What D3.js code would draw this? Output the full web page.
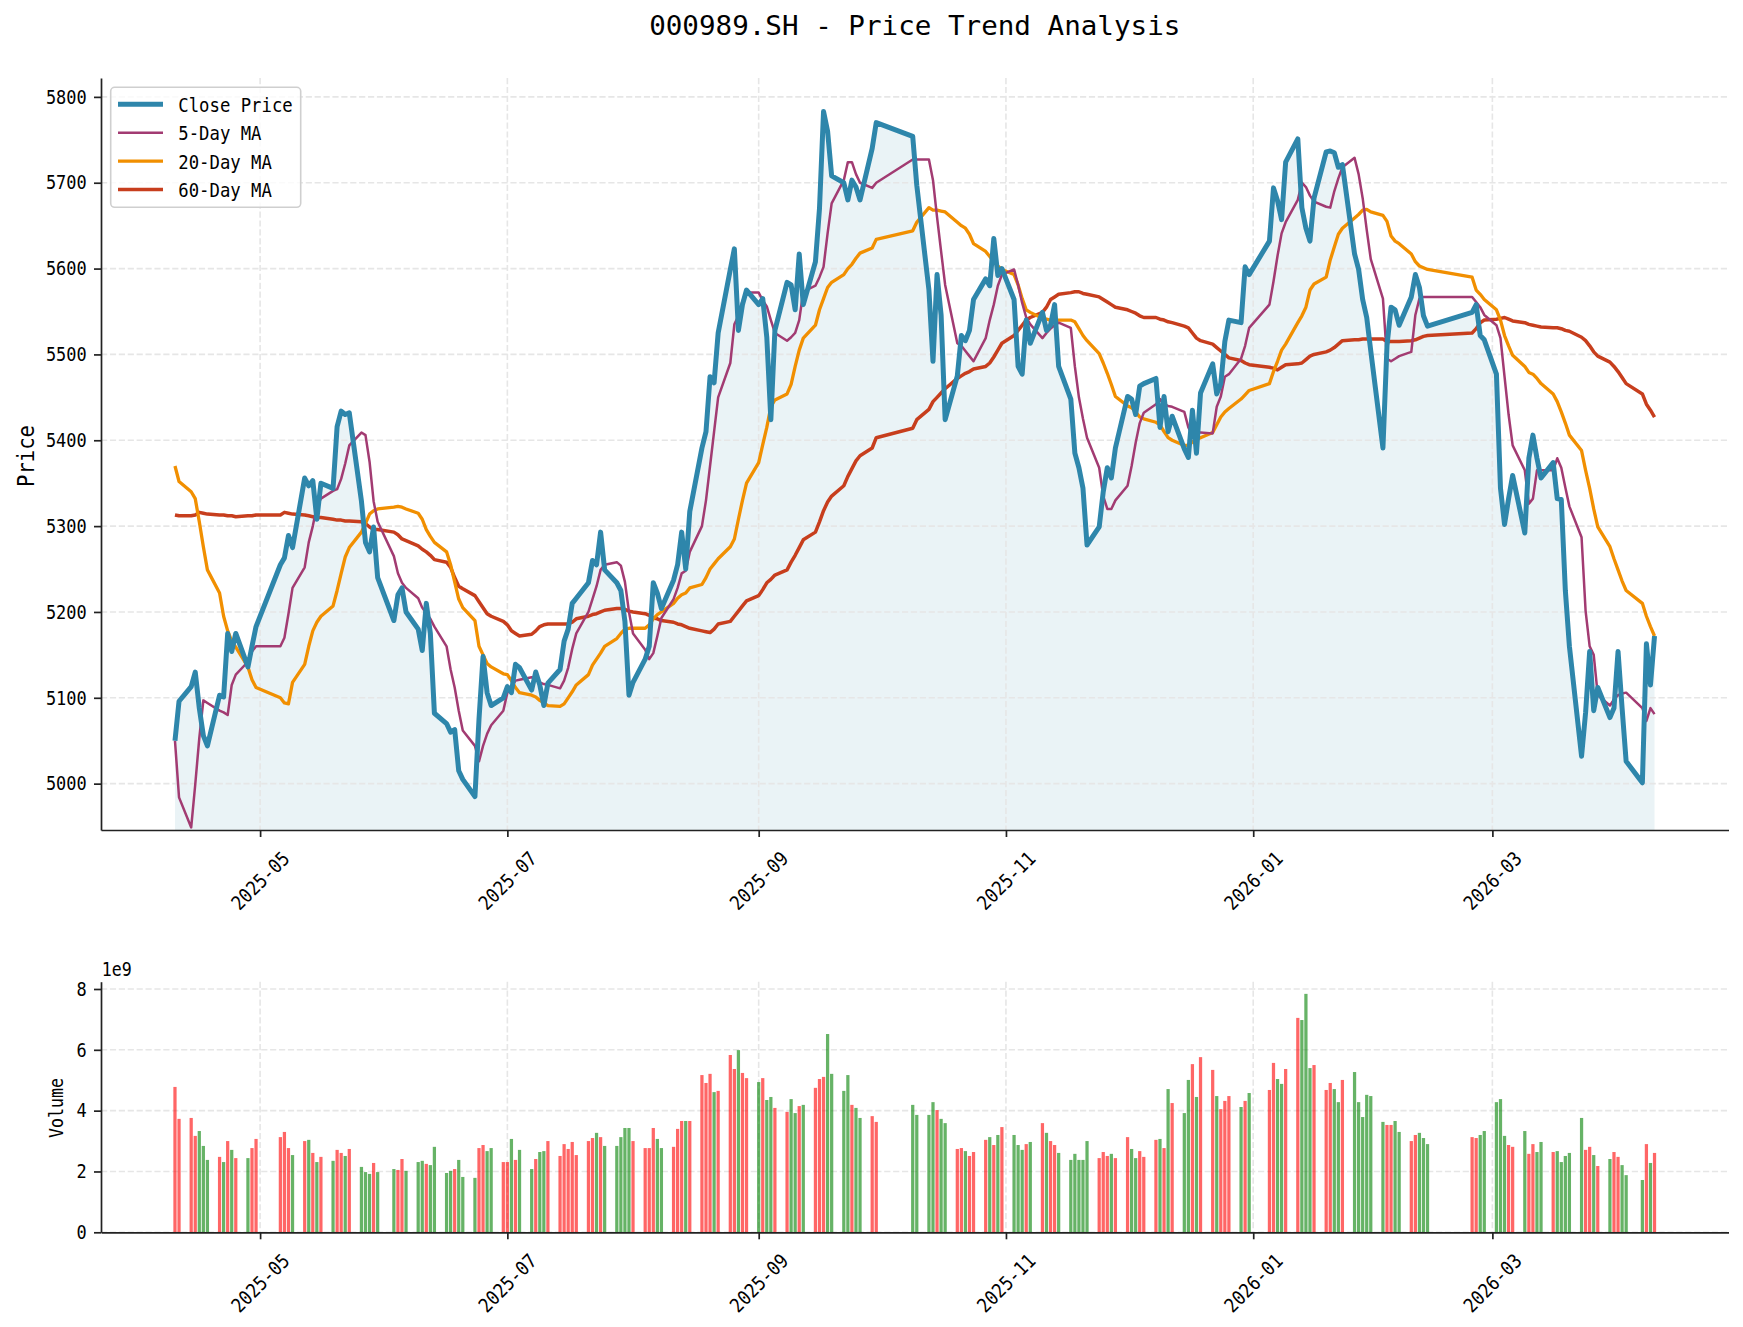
<!DOCTYPE html>
<html>
<head>
<meta charset="utf-8">
<script src="https://cdn.jsdelivr.net/npm/d3@7"></script>
<style>
  body { margin: 0; background: #fff; }
  svg { display: block; }
  text { font-family: "DejaVu Sans Mono", monospace; fill: #000; }
</style>
</head>
<body>
<svg id="chart" width="1743" height="1327"></svg>
<script>
// ---- data ----
var tradeDates = [
  "2025-04-10","2025-04-11","2025-04-14","2025-04-15","2025-04-16","2025-04-17","2025-04-18","2025-04-21","2025-04-22","2025-04-23","2025-04-24","2025-04-25","2025-04-28","2025-04-29","2025-04-30",
  "2025-05-06","2025-05-07","2025-05-08","2025-05-09","2025-05-12","2025-05-13","2025-05-14","2025-05-15","2025-05-16","2025-05-19","2025-05-20","2025-05-21","2025-05-22","2025-05-23","2025-05-26","2025-05-27","2025-05-28","2025-05-29","2025-05-30",
  "2025-06-03","2025-06-04","2025-06-05","2025-06-06","2025-06-09","2025-06-10","2025-06-11","2025-06-12","2025-06-13","2025-06-16","2025-06-17","2025-06-18","2025-06-19","2025-06-20","2025-06-23","2025-06-24","2025-06-25","2025-06-26","2025-06-27","2025-06-30",
  "2025-07-01","2025-07-02","2025-07-03","2025-07-04","2025-07-07","2025-07-08","2025-07-09","2025-07-10","2025-07-11","2025-07-14","2025-07-15","2025-07-16","2025-07-17","2025-07-18","2025-07-21","2025-07-22","2025-07-23","2025-07-24","2025-07-25","2025-07-28","2025-07-29","2025-07-30","2025-07-31",
  "2025-08-01","2025-08-04","2025-08-05","2025-08-06","2025-08-07","2025-08-08","2025-08-11","2025-08-12","2025-08-13","2025-08-14","2025-08-15","2025-08-18","2025-08-19","2025-08-20","2025-08-21","2025-08-22","2025-08-25","2025-08-26","2025-08-27","2025-08-28","2025-08-29",
  "2025-09-01","2025-09-02","2025-09-03","2025-09-04","2025-09-05","2025-09-08","2025-09-09","2025-09-10","2025-09-11","2025-09-12","2025-09-15","2025-09-16","2025-09-17","2025-09-18","2025-09-19","2025-09-22","2025-09-23","2025-09-24","2025-09-25","2025-09-26","2025-09-29","2025-09-30",
  "2025-10-09","2025-10-10","2025-10-13","2025-10-14","2025-10-15","2025-10-16","2025-10-17","2025-10-20","2025-10-21","2025-10-22","2025-10-23","2025-10-24","2025-10-27","2025-10-28","2025-10-29","2025-10-30","2025-10-31",
  "2025-11-03","2025-11-04","2025-11-05","2025-11-06","2025-11-07","2025-11-10","2025-11-11","2025-11-12","2025-11-13","2025-11-14","2025-11-17","2025-11-18","2025-11-19","2025-11-20","2025-11-21","2025-11-24","2025-11-25","2025-11-26","2025-11-27","2025-11-28",
  "2025-12-01","2025-12-02","2025-12-03","2025-12-04","2025-12-05","2025-12-08","2025-12-09","2025-12-10","2025-12-11","2025-12-12","2025-12-15","2025-12-16","2025-12-17","2025-12-18","2025-12-19","2025-12-22","2025-12-23","2025-12-24","2025-12-25","2025-12-26","2025-12-29","2025-12-30","2025-12-31",
  "2026-01-05","2026-01-06","2026-01-07","2026-01-08","2026-01-09","2026-01-12","2026-01-13","2026-01-14","2026-01-15","2026-01-16","2026-01-19","2026-01-20","2026-01-21","2026-01-22","2026-01-23","2026-01-26","2026-01-27","2026-01-28","2026-01-29","2026-01-30",
  "2026-02-02","2026-02-03","2026-02-04","2026-02-05","2026-02-06","2026-02-09","2026-02-10","2026-02-11","2026-02-12","2026-02-13","2026-02-24","2026-02-25","2026-02-26","2026-02-27",
  "2026-03-02","2026-03-03","2026-03-04","2026-03-05","2026-03-06","2026-03-09","2026-03-10","2026-03-11","2026-03-12","2026-03-13","2026-03-16","2026-03-17","2026-03-18","2026-03-19","2026-03-20","2026-03-23","2026-03-24","2026-03-25","2026-03-26","2026-03-27","2026-03-30","2026-03-31",
  "2026-04-01","2026-04-02","2026-04-03","2026-04-07","2026-04-08","2026-04-09","2026-04-10"
];

var closePrice = [
  5050,5096,5113,5130,5088,5056,5044,5103,5101,5175,5154,5175,5136,5160,5183,
  5255,5263,5289,5275,5356,5347,5353,5308,5350,5344,5416,5434,5430,5432,5329,5281,5270,5299,5240,
  5190,5220,5228,5200,5180,5155,5210,5175,5082,5070,5060,5063,5015,5005,4985,5075,5148,5106,5091,5100,
  5113,5106,5139,5135,5109,5130,5115,5091,5117,5133,5166,5180,5210,5216,5234,5260,5255,5293,5249,5234,5225,5189,5103,
  5118,5145,5160,5234,5222,5204,5237,5255,5293,5250,5317,5391,5410,5474,5467,5525,5599,5623,5528,5558,5575,
  5558,5565,5520,5424,5528,5584,5581,5552,5617,5558,5608,5670,5783,5760,5708,5700,5680,5703,5695,5680,5740,5770,
  5754,5697,5575,5492,5593,5546,5424,5475,5522,5516,5528,5564,5588,5580,5635,5592,5600,
  5564,5486,5477,5540,5513,5549,5528,5534,5558,5486,5448,5385,5368,5344,5278,5299,5340,5368,5356,5391,
  5451,5448,5430,5463,5466,5472,5415,5451,5410,5428,5390,5380,5435,5385,5455,5489,5454,5466,5515,5540,5537,5602,5593,
  5632,5694,5679,5657,5724,5751,5671,5647,5632,5682,5736,5737,5735,5718,5721,5617,5599,5564,5543,5504,
  5391,5510,5555,5552,5534,5567,5593,5578,5545,5533,5549,5558,5522,5517,
  5477,5344,5302,5332,5359,5292,5379,5406,5379,5356,5374,5332,5331,5225,5160,5032,5083,5154,5085,5112,5077,5088,
  5154,5088,5026,5001,5163,5115,5172
];

var ma5 = [
  5050,4984,4949,4999,5053,5097,5094,5085,5083,5080,5115,5127,5142,5154,5160,
  5160,5170,5198,5228,5252,5281,5300,5323,5332,5341,5343,5355,5373,5394,5409,5406,5375,5329,5305,
  5265,5245,5234,5228,5216,5205,5198,5192,5183,5160,5133,5112,5085,5062,5044,5026,5044,5058,5068,5085,
  5106,5112,5120,5121,5124,5122,5118,5116,5115,5111,5120,5135,5157,5175,5200,5215,5230,5249,5255,5258,5254,5235,5200,
  5175,5156,5145,5152,5172,5193,5215,5228,5245,5248,5270,5300,5330,5370,5410,5450,5490,5535,5545,5562,5572,
  5572,5563,5556,5540,5525,5516,5520,5525,5540,5573,5580,5590,5602,5641,5676,5703,5724,5724,5710,5700,5694,5700,
  5727,5727,5727,5703,5660,5620,5581,5513,5510,5504,5498,5492,5519,5540,5558,5580,5593,
  5599,5581,5560,5543,5535,5519,5525,5530,5534,5537,5531,5486,5450,5425,5403,5368,5335,5320,5320,5330,
  5347,5370,5397,5420,5432,5442,5448,5442,5440,5439,5433,5415,5406,5409,5409,5408,5439,5451,5474,5477,5495,5510,5531,
  5558,5585,5615,5641,5654,5680,5700,5695,5685,5678,5672,5671,5690,5705,5718,5729,5710,5682,5645,5611,
  5565,5495,5492,5495,5498,5503,5546,5565,5567,5567,5567,5561,5555,5546,
  5534,5519,5474,5430,5394,5365,5326,5332,5365,5365,5365,5379,5368,5345,5323,5287,5201,5160,5150,5103,5091,5098,
  5103,5105,5106,5088,5073,5088,5081
];

var ma20 = [
  5370,5352,5340,5332,5305,5276,5249,5222,5195,5178,5166,5159,5136,5121,5112,
  5100,5094,5093,5118,5139,5160,5178,5188,5195,5207,5225,5245,5264,5275,5293,5303,5314,5318,5320,
  5322,5323,5322,5320,5315,5308,5296,5288,5281,5270,5255,5235,5215,5205,5190,5160,5150,5140,5136,5128,
  5127,5120,5112,5106,5103,5101,5097,5094,5091,5090,5093,5100,5107,5115,5127,5138,5145,5152,5160,5169,5175,5180,5181,
  5181,5181,5185,5192,5197,5200,5210,5216,5220,5222,5228,5232,5240,5250,5256,5262,5276,5285,5308,5330,5350,
  5374,5395,5415,5439,5447,5454,5465,5486,5505,5519,5534,5552,5565,5578,5584,5593,5600,5605,5612,5618,5624,5634,
  5644,5654,5671,5668,5668,5667,5666,5654,5650,5647,5640,5629,5620,5614,5608,5603,5599,
  5593,5581,5565,5552,5549,5542,5541,5540,5540,5540,5540,5538,5530,5522,5516,5501,5490,5478,5465,5451,
  5440,5438,5433,5427,5425,5421,5418,5410,5403,5400,5394,5394,5398,5401,5403,5409,5418,5427,5433,5437,5448,5453,5458,
  5466,5480,5492,5505,5512,5537,5545,5555,5575,5582,5590,5610,5625,5640,5647,5659,5663,5668,5669,5666,
  5662,5655,5638,5632,5629,5617,5608,5603,5601,5599,5590,5575,5570,5564,
  5552,5540,5522,5510,5499,5486,5479,5477,5472,5466,5454,5445,5433,5420,5406,5388,5365,5344,5320,5299,5276,5262,
  5249,5236,5225,5210,5195,5183,5172
];

var ma60 = [
  5313,5312,5312,5313,5316,5315,5314,5313,5313,5312,5312,5311,5312,5312,5313,
  5313,5316,5315,5314,5313,5312,5311,5310,5310,5308,5307,5307,5306,5306,5305,5303,5299,5296,5296,
  5293,5290,5285,5283,5277,5273,5270,5266,5261,5258,5252,5240,5230,5227,5219,5212,5205,5198,5195,5189,
  5185,5178,5175,5172,5174,5178,5183,5185,5186,5186,5186,5186,5188,5192,5195,5197,5198,5200,5202,5204,5204,5203,5201,
  5200,5198,5196,5193,5192,5190,5188,5186,5185,5183,5181,5178,5177,5176,5180,5186,5189,5195,5201,5207,5213,
  5219,5226,5234,5238,5243,5249,5258,5266,5275,5284,5293,5305,5318,5328,5335,5347,5358,5367,5376,5382,5391,5403,
  5414,5424,5436,5445,5450,5455,5460,5472,5475,5478,5480,5483,5486,5490,5497,5505,5513,
  5522,5528,5534,5540,5543,5549,5555,5564,5567,5570,5572,5573,5573,5571,5570,5567,5564,5561,5558,5555,
  5552,5550,5548,5545,5543,5543,5541,5540,5538,5537,5533,5531,5525,5519,5516,5512,5508,5504,5500,5496,5493,5490,5488,
  5485,5484,5482,5485,5488,5489,5490,5494,5498,5500,5503,5505,5508,5512,5516,5517,5517,5518,5518,5518,
  5518,5515,5515,5515,5515,5516,5517,5519,5521,5522,5525,5530,5537,5540,
  5541,5542,5543,5541,5539,5537,5535,5534,5533,5532,5531,5531,5530,5528,5527,5520,5516,5510,5503,5498,5491,5486,
  5480,5473,5466,5454,5442,5435,5427
];

// volume in units of 1e9
var volumeE9 = [
  4.78,3.73,3.76,3.17,3.33,2.84,2.38,2.48,2.31,3.00,2.71,2.44,2.44,2.77,3.07,
  3.13,3.30,2.77,2.54,3.00,3.04,2.61,2.31,2.48,2.35,2.71,2.61,2.51,2.74,2.15,1.98,1.92,2.28,1.98,
  2.08,2.05,2.41,2.02,2.31,2.35,2.25,2.21,2.81,1.95,2.02,2.08,2.38,1.82,1.79,2.77,2.87,2.67,2.77,2.31,
  2.31,3.07,2.38,2.71,2.08,2.41,2.64,2.67,3.00,2.51,2.90,2.74,2.97,2.54,3.00,3.10,3.27,3.13,2.84,2.84,3.13,3.43,3.43,
  3.00,2.77,2.77,3.43,3.07,2.77,2.81,3.40,3.66,3.66,3.66,5.17,4.91,5.21,4.61,4.65,5.83,5.37,5.99,5.24,5.07,
  4.94,5.07,4.35,4.45,4.09,3.96,4.38,3.92,4.15,4.19,4.75,5.04,5.11,6.52,5.21,4.65,5.17,4.19,4.09,3.76,3.82,3.63,
  4.19,3.86,3.86,4.28,4.02,3.73,3.59,2.74,2.77,2.67,2.51,2.64,3.04,3.13,2.87,3.20,3.46,
  3.20,2.87,2.71,2.90,2.97,3.59,3.27,3.00,2.87,2.61,2.38,2.58,2.38,2.38,3.00,2.44,2.64,2.51,2.58,2.44,
  3.13,2.74,2.44,2.67,2.48,3.04,3.07,2.77,4.71,4.25,3.92,5.01,5.53,4.45,5.76,5.34,4.48,4.05,4.32,4.48,4.12,4.32,4.58,
  4.68,5.57,5.04,4.88,5.37,7.05,6.98,7.84,5.40,5.50,4.68,4.91,4.71,4.28,5.01,5.27,4.28,3.79,4.52,4.48,
  3.63,3.53,3.53,3.66,3.30,3.00,3.20,3.27,3.10,2.90,3.13,3.10,3.20,3.33,
  4.28,4.38,3.17,2.87,2.81,3.33,2.58,2.90,2.64,2.97,2.64,2.67,2.31,2.51,2.61,3.76,2.71,2.81,2.54,2.18,2.41,2.64,
  2.48,2.21,1.88,1.72,2.90,2.28,2.61
];

// 1 = up day (red bar), 0 = down day (green bar)
var volumeUp = [
  1,1,1,1,0,0,0,1,0,1,0,1,0,1,1,
  1,1,1,0,1,0,1,0,1,0,1,1,0,1,0,0,0,1,0,
  0,1,1,0,0,0,1,0,0,0,0,1,0,0,0,1,1,0,0,1,
  1,0,1,0,0,1,0,0,1,1,1,1,1,1,1,1,0,1,0,0,0,0,0,
  1,1,1,1,0,0,1,1,1,0,1,1,1,1,0,1,1,1,0,1,1,
  0,1,0,0,1,1,0,0,1,0,1,1,1,0,0,0,0,1,0,0,1,1,
  0,0,0,0,1,0,0,1,1,0,1,1,1,0,1,0,1,
  0,0,0,1,0,1,0,1,1,0,0,0,0,0,0,1,1,1,0,1,
  1,0,0,1,1,1,0,1,0,1,0,0,1,0,1,1,0,1,1,1,0,1,0,
  1,1,0,0,1,1,0,0,0,1,1,1,0,0,1,0,0,0,0,0,
  0,1,1,0,0,1,1,0,0,0,1,1,0,0,
  0,0,0,1,1,0,1,1,0,0,1,0,0,0,0,0,1,1,0,1,0,1,
  1,0,0,0,1,0,1
];

var priceTicks = [5000, 5100, 5200, 5300, 5400, 5500, 5600, 5700, 5800];
var volumeTicks = [0, 2, 4, 6, 8];
var dateTicks = ["2025-05-01", "2025-07-01", "2025-09-01", "2025-11-01", "2026-01-01", "2026-03-01"];

// ---- layout ----
var svg = d3.select("#chart");
var main = {left: 101, right: 1728.5, top: 78, bottom: 830};
var vol = {top: 981.7, bottom: 1232.3};

var parseDate = d3.utcParse("%Y-%m-%d");
var days = tradeDates.map(parseDate);
var rows = days.map(function (d, i) {
    return {date: d, close: closePrice[i], ma5: ma5[i], ma20: ma20[i], ma60: ma60[i], vol: volumeE9[i], up: volumeUp[i]};
});

var t0 = days[0], t1 = days[days.length - 1];
var pad = (t1 - t0) * 0.05;
var x = d3.scaleUtc()
    .domain([new Date(+t0 - pad), new Date(+t1 + pad)])
    .range([main.left, main.right]);
var y = d3.scaleLinear().domain([4946, 5822]).range([main.bottom, main.top]);
var yv = d3.scaleLinear().domain([0, 8.24]).range([vol.bottom, vol.top]);
var tickDates = dateTicks.map(parseDate);

var GRID = "#e6e6e6", SPINE = "#222";

// squeeze monospace text to half-width glyphs (SimHei-like)
function squeeze(sel, size, adv) {
    sel.attr("font-size", size)
        .attr("lengthAdjust", "spacingAndGlyphs")
        .attr("textLength", function () { return this.textContent.length * adv; });
}

function grid(g, yScale, yTicks, top, bottom) {
    g.selectAll("line.gx").data(tickDates).enter().append("line")
        .attr("x1", function (d) { return x(d); }).attr("x2", function (d) { return x(d); })
        .attr("y1", top).attr("y2", bottom);
    g.selectAll("line.gy").data(yTicks).enter().append("line")
        .attr("x1", main.left).attr("x2", main.right)
        .attr("y1", function (d) { return yScale(d); }).attr("y2", function (d) { return yScale(d); });
    g.selectAll("line")
        .attr("stroke", GRID).attr("stroke-width", 1.6).attr("stroke-dasharray", "6.2,2.7");
}

function styleAxis(g) {
    g.selectAll("path.domain").attr("stroke", SPINE).attr("stroke-width", 1.7);
    g.selectAll(".tick line").attr("stroke", SPINE).attr("stroke-width", 1.7);
    g.selectAll("text").attr("fill", "#000").attr("font-family", "DejaVu Sans Mono");
}

function dateAxis(yPos) {
    var g = svg.append("g").attr("transform", "translate(0," + yPos + ")")
        .call(d3.axisBottom(x).tickValues(tickDates).tickFormat(d3.utcFormat("%Y-%m"))
            .tickSize(7).tickSizeOuter(0));
    styleAxis(g);
    g.selectAll(".tick text")
        .attr("x", 0).attr("y", 0).attr("dy", null)
        .attr("text-anchor", "middle").attr("dominant-baseline", "central")
        .attr("transform", "translate(0,51) rotate(-45)")
        .call(squeeze, 19.5, 10.4);
}

// ---- price panel ----
svg.append("clipPath").attr("id", "clipMain").append("rect")
    .attr("x", main.left).attr("y", main.top)
    .attr("width", main.right - main.left).attr("height", main.bottom - main.top);

var area = d3.area()
    .x(function (d) { return x(d.date); })
    .y0(main.bottom)
    .y1(function (d) { return y(d.close); });

svg.append("path").datum(rows)
    .attr("clip-path", "url(#clipMain)")
    .attr("d", area).attr("fill", "#2E86AB").attr("fill-opacity", 0.1);

grid(svg.append("g"), y, priceTicks, main.top, main.bottom);

var series = [
    {key: "close", label: "Close Price", color: "#2E86AB", width: 5},
    {key: "ma5", label: "5-Day MA", color: "#A23B72", width: 2.5},
    {key: "ma20", label: "20-Day MA", color: "#F18F01", width: 3.3},
    {key: "ma60", label: "60-Day MA", color: "#C73E1D", width: 3.5}
];

var lines = svg.append("g").attr("clip-path", "url(#clipMain)");
[series[3], series[2], series[1], series[0]].forEach(function (s) {
    var line = d3.line()
        .x(function (d) { return x(d.date); })
        .y(function (d) { return y(d[s.key]); });
    lines.append("path").datum(rows)
        .attr("d", line).attr("fill", "none")
        .attr("stroke", s.color).attr("stroke-width", s.width)
        .attr("stroke-linejoin", "round");
});

var gy = svg.append("g").attr("transform", "translate(" + main.left + ",0)")
    .call(d3.axisLeft(y).tickValues(priceTicks).tickFormat(d3.format("d"))
        .tickSize(7).tickPadding(7.3).tickSizeOuter(0));
styleAxis(gy);
gy.selectAll(".tick text").call(squeeze, 19.5, 10.2);

dateAxis(main.bottom);

// legend
var leg = svg.append("g");
leg.append("rect")
    .attr("x", 110.7).attr("y", 87.3).attr("width", 190).attr("height", 120)
    .attr("rx", 4).attr("fill", "#fff").attr("fill-opacity", 0.8)
    .attr("stroke", "#cfcfcf").attr("stroke-width", 1.6);
series.forEach(function (s, i) {
    var ly = 104.3 + i * 28.4;
    leg.append("line")
        .attr("x1", 118).attr("x2", 163).attr("y1", ly).attr("y2", ly)
        .attr("stroke", s.color).attr("stroke-width", s.width);
    leg.append("text").attr("x", 178.3).attr("y", ly + 7.4)
        .text(s.label).call(squeeze, 19.5, 10.4);
});

svg.append("text")
    .attr("transform", "translate(33.5,456) rotate(-90)")
    .attr("text-anchor", "middle")
    .text("Price").call(squeeze, 23.5, 12.4);

svg.append("text")
    .attr("x", (main.left + main.right) / 2).attr("y", 35)
    .attr("text-anchor", "middle")
    .text("000989.SH - Price Trend Analysis").call(squeeze, 27.4, 16.6);

// ---- volume panel ----
grid(svg.append("g"), yv, volumeTicks, vol.top, vol.bottom);

var dayMs = 24 * 3600 * 1000;
var barW = x(new Date(+t0 + 0.8 * dayMs)) - x(t0);
svg.append("g").selectAll("rect").data(rows).enter().append("rect")
    .attr("x", function (d) { return x(d.date) - barW / 2; })
    .attr("y", function (d) { return yv(d.vol); })
    .attr("width", barW)
    .attr("height", function (d) { return yv(0) - yv(d.vol); })
    .attr("fill", function (d) { return d.up ? "red" : "green"; })
    .attr("fill-opacity", 0.6);

var gyv = svg.append("g").attr("transform", "translate(" + main.left + ",0)")
    .call(d3.axisLeft(yv).tickValues(volumeTicks).tickFormat(d3.format("d"))
        .tickSize(7).tickPadding(7.3).tickSizeOuter(0));
styleAxis(gyv);
gyv.selectAll(".tick text").call(squeeze, 19.5, 10.2);

dateAxis(vol.bottom);

svg.append("text").attr("x", 101.7).attr("y", 976)
    .text("1e9").call(squeeze, 19, 10);

svg.append("text")
    .attr("transform", "translate(62.5,1108) rotate(-90)")
    .attr("text-anchor", "middle")
    .text("Volume").call(squeeze, 19, 10);
</script>
</body>
</html>
